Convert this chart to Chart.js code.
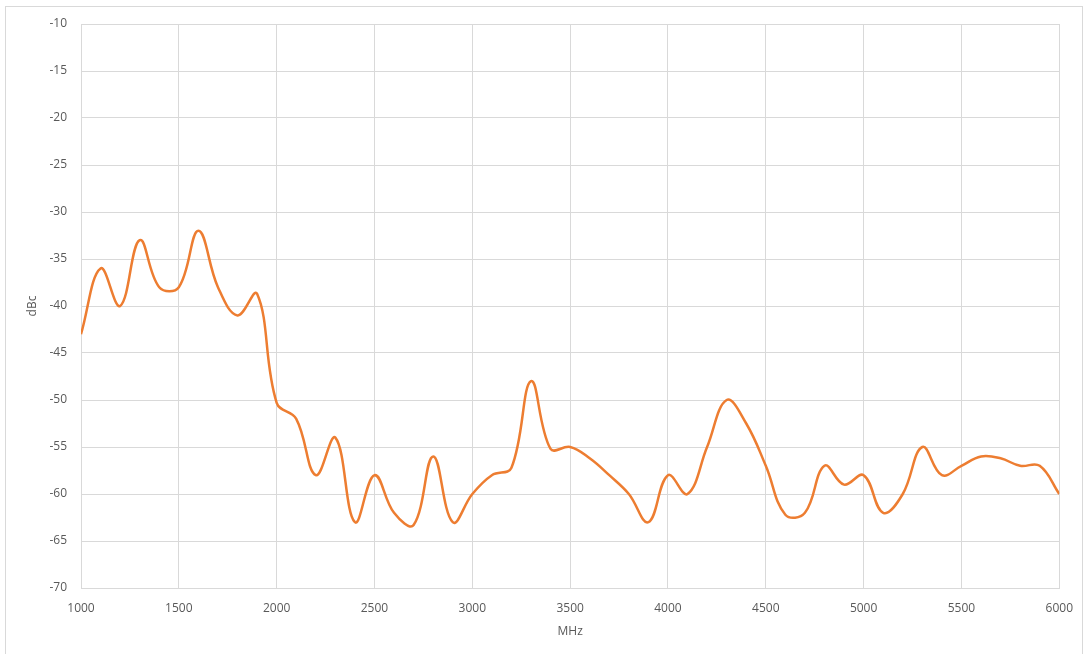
<!DOCTYPE html>
<html>
<head>
<meta charset="utf-8">
<script src="https://cdn.jsdelivr.net/npm/chart.js@4.4.0/dist/chart.umd.min.js"></script>
<style>
  html, body { margin: 0; padding: 0; background: #fff; }
  #frame { position: absolute; left: 5px; top: 6px; width: 1076px; height: 660px; border: 1px solid #d9d9d9; }
  #wrap { position: absolute; left: 0; top: 0; width: 1086px; height: 654px; }
</style>
</head>
<body>
<div id="frame"></div>
<div id="wrap"><canvas id="spurChart"></canvas></div>
<script>
// 周波数 (MHz) と スプリアスレベル (dBc)
const freqs = [
  1000, 1100, 1200, 1300, 1400, 1500, 1600, 1700, 1800, 1900,
  2000, 2100, 2200, 2300, 2400, 2500, 2600, 2700, 2800, 2900,
  3000, 3100, 3200, 3300, 3400, 3500, 3600, 3700, 3800, 3900,
  4000, 4100, 4200, 4300, 4400, 4500, 4600, 4700, 4800, 4900,
  5000, 5100, 5200, 5300, 5400, 5500, 5600, 5700, 5800, 5900, 6000
];
const dbc = [
  -43, -36, -40, -33, -38, -38, -32, -38, -41, -38.7,
  -50.3, -52, -58, -54, -63, -58, -62, -63.3, -56, -63,
  -60, -58, -57.2, -48, -55.2, -55, -56.2, -58, -60, -63,
  -58, -60, -55, -50, -52.5, -57, -62.2, -62, -57, -59,
  -58, -62, -60, -55, -58, -57, -56, -56.2, -57, -57, -60
];
const xTicks = { min: 1000, max: 6000, step: 500 };
const yTicks = { min: -70, max: -10, step: 5 };

const font = { family: "'Open Sans', 'Liberation Sans', sans-serif", size: 12 };
const gray = '#595959';

new Chart(document.getElementById('spurChart').getContext('2d'), {
  type: 'line',
  data: {
    datasets: [{
      data: freqs.map((f, i) => ({ x: f, y: dbc[i] })),
      borderColor: '#ED7D31',
      borderWidth: 2.5,
      pointRadius: 0,
      tension: 0.4,
      fill: false
    }]
  },
  options: {
    responsive: true,
    maintainAspectRatio: false,
    animation: false,
    layout: { padding: { top: 24, right: 23, left: 0, bottom: 0 } },
    plugins: { legend: { display: false }, tooltip: { enabled: false } },
    scales: {
      x: {
        type: 'linear',
        min: xTicks.min,
        max: xTicks.max,
        ticks: { stepSize: xTicks.step, color: gray, font, padding: 13, maxRotation: 0, callback: (v) => String(v) },
        grid: { color: '#d9d9d9', drawTicks: false },
        border: { color: '#d9d9d9' },
        title: { display: true, text: 'MHz', color: gray, font, padding: { top: 15, bottom: 15 } },
        afterFit: (s) => { s.height = 66; }
      },
      y: {
        min: yTicks.min,
        max: yTicks.max,
        ticks: { stepSize: yTicks.step, color: gray, font, padding: 14 },
        grid: { color: '#d9d9d9', drawTicks: false },
        border: { color: '#d9d9d9' },
        title: { display: true, text: 'dBc', color: gray, font, padding: { top: 25, bottom: 4 } },
        afterFit: (s) => { s.width = 81; }
      }
    }
  }
});
</script>
</body>
</html>
